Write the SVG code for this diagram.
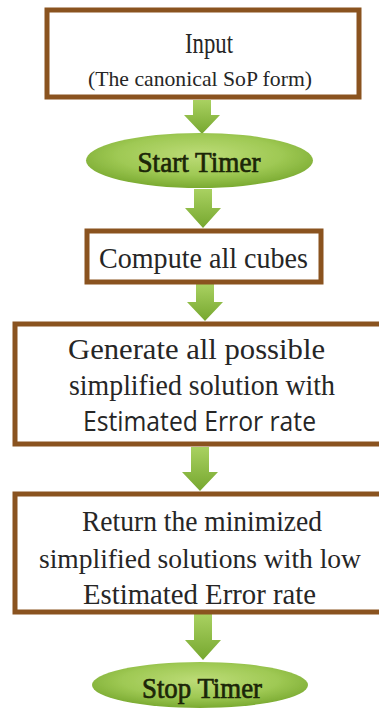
<svg xmlns="http://www.w3.org/2000/svg" width="379" height="710" viewBox="0 0 379 710">
  <defs>
    <linearGradient id="arrowFill" x1="0" y1="0" x2="0" y2="1">
      <stop offset="0" stop-color="#a9d161"/>
      <stop offset="1" stop-color="#76a72f"/>
    </linearGradient>
    <radialGradient id="ovalFill" cx="0.5" cy="0.4" r="0.6">
      <stop offset="0" stop-color="#bddc78"/>
      <stop offset="0.6" stop-color="#9fc954"/>
      <stop offset="1" stop-color="#7aaa31"/>
    </radialGradient>
    <filter id="soft" x="-10%" y="-20%" width="120%" height="140%">
      <feGaussianBlur stdDeviation="0.6"/>
    </filter>
  </defs>
  <style>
    .box { fill: #ffffff; stroke: #8a531f; stroke-width: 5; }
    .oval { fill: url(#ovalFill); }
    .arrow { fill: url(#arrowFill); }
    .serif { font-family: "Liberation Serif", "Times New Roman", serif; fill: #262626; text-anchor: middle; }
    .sans { font-family: "Open Sans", "Liberation Sans", sans-serif; fill: #262626; text-anchor: middle; }
    .oval-label { font-family: "Liberation Serif", "Times New Roman", serif; fill: #1c2608; stroke: #1c2608; stroke-width: 0.7; text-anchor: middle; }
  </style>
  <rect width="379" height="710" fill="#ffffff"/>

  <!-- connectors: block arrows between steps -->
  <g id="connectors">
    <polygon class="arrow" points="193,100 211,100 211,115 220,115 202,134 184,115 193,115"/>
    <polygon class="arrow" points="194,189 212,189 212,208 221,208 203,228 185,208 194,208"/>
    <polygon class="arrow" points="196,284 214,284 214,302 223,302 205,321 187,302 196,302"/>
    <polygon class="arrow" points="191,447 209,447 209,472 218,472 200,491 182,472 191,472"/>
    <polygon class="arrow" points="194,614 212,614 212,640 221,640 203,660 185,640 194,640"/>
  </g>

  <g id="input">
    <rect class="box" x="47" y="10" width="312" height="87"/>
    <text class="serif" x="209" y="53" font-size="29" textLength="48" lengthAdjust="spacingAndGlyphs">Input</text>
    <text class="serif" x="200" y="86" font-size="22" textLength="224" lengthAdjust="spacingAndGlyphs">(The canonical SoP form)</text>
  </g>

  <g id="start-timer">
    <ellipse class="oval" cx="199.5" cy="160.5" rx="113.5" ry="27.5" filter="url(#soft)"/>
    <text class="oval-label" x="199" y="172" font-size="29" textLength="123" lengthAdjust="spacingAndGlyphs">Start Timer</text>
  </g>

  <g id="compute-cubes">
    <rect class="box" x="87" y="231" width="234" height="51"/>
    <text class="serif" x="203.5" y="268" font-size="30" textLength="209" lengthAdjust="spacingAndGlyphs">Compute all cubes</text>
  </g>

  <g id="generate-solutions">
    <rect class="box" x="15" y="324" width="380" height="120"/>
    <text class="serif" x="196.5" y="359" font-size="30" textLength="257" lengthAdjust="spacingAndGlyphs">Generate all possible</text>
    <text class="serif" x="202" y="395" font-size="30" textLength="266" lengthAdjust="spacingAndGlyphs">simplified solution with</text>
    <text class="sans" x="199.5" y="431" font-size="27" textLength="233" lengthAdjust="spacingAndGlyphs">Estimated Error rate</text>
  </g>

  <g id="return-minimized">
    <rect class="box" x="15" y="494" width="380" height="118"/>
    <text class="serif" x="202" y="531" font-size="30" textLength="240" lengthAdjust="spacingAndGlyphs">Return the minimized</text>
    <text class="serif" x="200" y="568" font-size="28" textLength="322" lengthAdjust="spacingAndGlyphs">simplified solutions with low</text>
    <text class="serif" x="199.5" y="604" font-size="30" textLength="233" lengthAdjust="spacingAndGlyphs">Estimated Error rate</text>
  </g>

  <g id="stop-timer">
    <ellipse class="oval" cx="200" cy="685" rx="108" ry="23" filter="url(#soft)"/>
    <text class="oval-label" x="202" y="698" font-size="29" textLength="120" lengthAdjust="spacingAndGlyphs">Stop Timer</text>
  </g>
</svg>
